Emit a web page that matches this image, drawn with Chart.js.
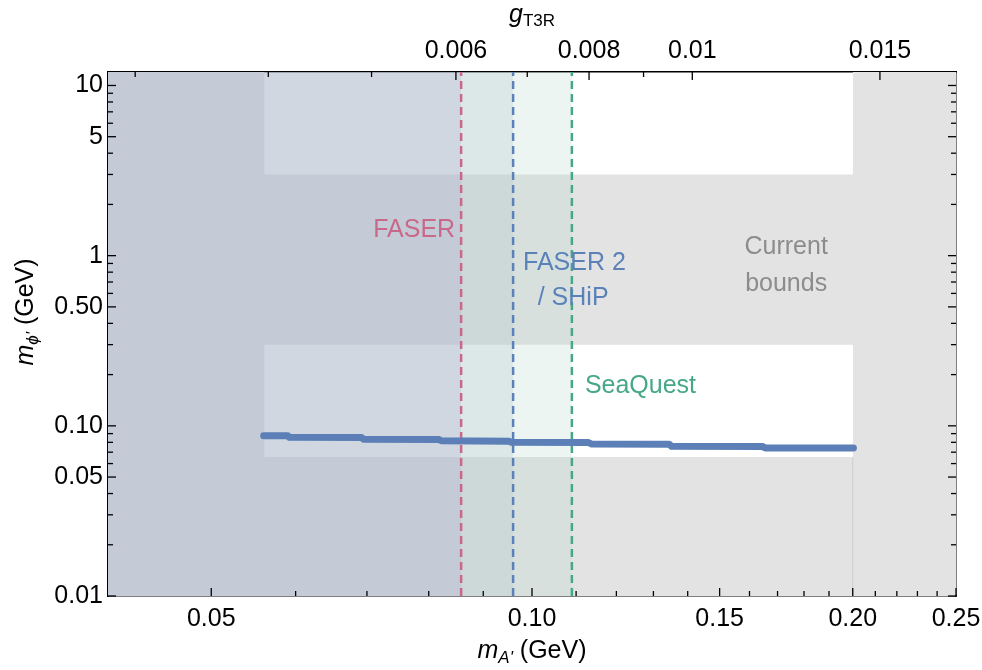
<!DOCTYPE html>
<html>
<head>
<meta charset="utf-8">
<script src="https://cdn.jsdelivr.net/npm/chart.js@4.4.0/dist/chart.umd.min.js"></script>
<style>
  html, body { margin: 0; padding: 0; background: #fff; }
  #wrap { width: 982px; height: 670px; }
</style>
</head>
<body>
<div id="wrap"><canvas id="chart" width="982" height="670"></canvas></div>
<script>
// axis ranges
const massRange = [0.04, 0.25];   // m_A' (GeV), bottom axis
const phiRange = [0.01, 12];      // m_phi' (GeV), left axis
const massPerCoupling = 14.14;    // top axis: m_A' = 14.14 * g_T3R

// ticks
const massMajor = [0.05, 0.10, 0.15, 0.20, 0.25];
const massMajorLabels = ["0.05", "0.10", "0.15", "0.20", "0.25"];
const massMinor = [0.06, 0.07, 0.08, 0.09, 0.11, 0.12, 0.13, 0.14, 0.16, 0.17, 0.18, 0.19, 0.21, 0.22, 0.23, 0.24];
const phiMajor = [0.01, 0.05, 0.1, 0.5, 1, 5, 10];
const phiMajorLabels = ["0.01", "0.05", "0.10", "0.50", "1", "5", "10"];
const phiMinor = [0.02, 0.03, 0.04, 0.06, 0.07, 0.08, 0.09, 0.2, 0.3, 0.4, 0.6, 0.7, 0.8, 0.9, 2, 3, 4, 6, 7, 8, 9];
const couplingMajor = [0.006, 0.008, 0.01, 0.015];
const couplingMajorLabels = ["0.006", "0.008", "0.01", "0.015"];
const couplingMinor = [0.003, 0.004, 0.005, 0.007, 0.009];

// current bounds (grey area)
const boundMassLow = 0.0561;
const boundMassHigh = 0.2;
const boundPhiBand = [0.3, 3];
const boundPhiLow = 0.0655;

// experiment reach in m_A' (sensitive below this)
const experiments = ["FASER", "FASER 2 / SHiP", "SeaQuest"];
const experimentReach = [0.0858, 0.0960, 0.1090];

// thermal target curve
const curveMass = [0.0560, 0.0590, 0.0592, 0.0692, 0.0695, 0.0818, 0.0822, 0.0952, 0.0956, 0.1130, 0.1138, 0.1345, 0.1352, 0.1645, 0.1655, 0.2003];
const curvePhi = [0.0875, 0.0873, 0.0856, 0.0853, 0.0834, 0.0830, 0.0817, 0.0813, 0.0800, 0.0797, 0.0781, 0.0780, 0.0758, 0.0757, 0.0741, 0.0740];

const lineColors = ["#c9698a", "#5a82b8", "#46a887"];
const fillColors = ["rgba(184,158,214,0.32)", "rgba(169,185,199,0.25)", "rgba(183,215,207,0.25)"];
const grey = "#e3e3e3";
const FONT = "'Liberation Sans', Arial, sans-serif";

const phiTop = phiRange[1], phiBottom = phiRange[0];
const pts = (xs, ys) => xs.map((x, i) => ({ x, y: ys[i] }));

function block(data, fill, color, order) {
  return { data, fill, backgroundColor: color, borderColor: "transparent", borderWidth: 0,
           pointRadius: 0, order, xAxisID: "x", yAxisID: "y" };
}

const datasets = [];
// grey current bounds
datasets.push(block(pts([massRange[0], boundMassLow], [phiTop, phiTop]), "start", grey, 100));
datasets.push(block(pts([boundMassHigh, massRange[1]], [phiTop, phiTop]), "start", grey, 100));
datasets.push(block(pts(massRange, [boundPhiBand[1], boundPhiBand[1]]), "+1", grey, 100));
datasets.push(block(pts(massRange, [boundPhiBand[0], boundPhiBand[0]]), false, "transparent", 100));
datasets.push(block(pts(massRange, [boundPhiLow, boundPhiLow]), "start", grey, 100));
// experiment regions (SeaQuest first, FASER on top)
for (let i = experiments.length - 1; i >= 0; i--) {
  datasets.push(block(pts([massRange[0], experimentReach[i]], [phiTop, phiTop]), "start", fillColors[i], 60 - i));
}
// faint edge of current bounds
datasets.push({ data: pts([boundMassHigh, boundMassHigh], [phiBottom, boundPhiLow]), borderColor: "#cfcfcf",
  borderWidth: 1, pointRadius: 0, fill: false, order: 30 });
// dashed reach lines
experiments.forEach((name, i) => {
  datasets.push({ label: name, data: pts([experimentReach[i], experimentReach[i]], [phiBottom, phiTop]),
    borderColor: lineColors[i], borderWidth: 2.5, borderDash: [8, 5], pointRadius: 0, fill: false, order: 10 });
});
// curve
datasets.push({ data: pts(curveMass, curvePhi), borderColor: "#5b7fb6", borderWidth: 7,
  borderCapStyle: "round", borderJoinStyle: "round", pointRadius: 0, fill: false, order: 1 });

const tickMarks = {
  id: "tickMarks",
  afterDatasetsDraw(chart) {
    const { ctx, chartArea: a, scales } = chart;
    ctx.save();
    ctx.strokeStyle = "#000";
    ctx.lineWidth = 1.3;
    const draw = (vals, len, fn) => vals.forEach(v => { ctx.beginPath(); fn(v, len); ctx.stroke(); });
    const bottomFn = (v, len) => { const x = scales.x.getPixelForValue(v); ctx.moveTo(x, a.bottom); ctx.lineTo(x, a.bottom - len); };
    const topFn = (v, len) => { const x = scales.g.getPixelForValue(v); ctx.moveTo(x, a.top); ctx.lineTo(x, a.top + len); };
    const leftFn = (v, len) => { const y = scales.y.getPixelForValue(v); ctx.moveTo(a.left, y); ctx.lineTo(a.left + len, y); };
    const rightFn = (v, len) => { const y = scales.y.getPixelForValue(v); ctx.moveTo(a.right, y); ctx.lineTo(a.right - len, y); };
    draw(massMajor, 8, bottomFn); draw(massMinor, 5, bottomFn);
    draw(couplingMajor, 8, topFn); draw(couplingMinor, 5, topFn);
    draw(phiMajor, 8, leftFn); draw(phiMinor, 5, leftFn);
    draw(phiMajor, 8, rightFn); draw(phiMinor, 5, rightFn);
    ctx.restore();
  }
};

const annotations = {
  id: "annotations",
  afterDatasetsDraw(chart) {
    const { ctx, scales } = chart;
    const X = v => scales.x.getPixelForValue(v), Y = v => scales.y.getPixelForValue(v);
    ctx.save();
    ctx.font = "25px " + FONT;
    ctx.textBaseline = "middle";
    ctx.fillStyle = lineColors[0]; ctx.textAlign = "right";
    ctx.fillText("FASER", X(experimentReach[0]) - 6, Y(1.42));
    ctx.fillStyle = lineColors[1]; ctx.textAlign = "center";
    ctx.fillText("FASER 2", X(0.1096), Y(0.906));
    ctx.fillText("/ SHiP", X(0.1093), Y(0.906) + 35);
    ctx.fillStyle = lineColors[2]; ctx.textAlign = "left";
    ctx.fillText("SeaQuest", X(experimentReach[2]) + 13, Y(0.17));
    ctx.fillStyle = "#8c8c8c"; ctx.textAlign = "center";
    ctx.fillText("Current", X(0.1732), Y(1.125));
    ctx.fillText("bounds", X(0.1732), Y(1.125) + 37);
    ctx.restore();
  }
};

// axis title with italic symbol and subscript
function richTitle(ctx, parts, cx, cy) {
  let w = 0;
  parts.forEach(p => { ctx.font = p.font; p.w = ctx.measureText(p.text).width; w += p.w; });
  let x = cx - w / 2;
  parts.forEach(p => { ctx.font = p.font; ctx.fillText(p.text, x, cy + (p.dy || 0)); x += p.w; });
}

const titles = {
  id: "titles",
  afterDraw(chart) {
    const { ctx, chartArea: a } = chart;
    const cx = (a.left + a.right) / 2;
    ctx.save();
    ctx.fillStyle = "#000";
    ctx.textBaseline = "alphabetic";
    ctx.textAlign = "left";
    richTitle(ctx, [
      { text: "m", font: "italic 25px " + FONT },
      { text: "A'", font: "italic 17px " + FONT, dy: 5 },
      { text: " (GeV)", font: "25px " + FONT }
    ], cx, 658);
    richTitle(ctx, [
      { text: "g", font: "italic 25px " + FONT },
      { text: "T3R", font: "17px " + FONT, dy: 4 }
    ], cx, 22);
    ctx.translate(33, 312);
    ctx.rotate(-Math.PI / 2);
    richTitle(ctx, [
      { text: "m", font: "italic 25px " + FONT },
      { text: "\u03D5'", font: "italic 17px " + FONT, dy: 5 },
      { text: " (GeV)", font: "25px " + FONT }
    ], 0, 0);
    ctx.restore();
  }
};

const tickFont = { family: FONT, size: 25 };
const noGrid = { display: false, drawTicks: false };
const frame = { display: true, color: "#000", width: 1.5 };
const fitX = h => s => { s.height = h; s.paddingLeft = 0; s.paddingRight = 0; };
const fitY = w => s => { s.width = w; s.paddingTop = 0; s.paddingBottom = 0; };

new Chart(document.getElementById("chart"), {
  type: "line",
  data: { datasets },
  options: {
    responsive: false,
    animation: false,
    layout: { padding: 0 },
    plugins: { legend: { display: false }, tooltip: { enabled: false } },
    scales: {
      x: {
        type: "logarithmic", position: "bottom", min: massRange[0], max: massRange[1],
        afterBuildTicks: s => { s.ticks = massMajor.map(v => ({ value: v })); },
        afterFit: fitX(74),
        ticks: { callback: (v, i) => massMajorLabels[i], autoSkip: false, maxRotation: 0, font: tickFont, color: "#000", padding: 8 },
        grid: noGrid, border: frame
      },
      g: {
        type: "logarithmic", position: "top",
        min: massRange[0] / massPerCoupling, max: massRange[1] / massPerCoupling,
        afterBuildTicks: s => { s.ticks = couplingMajor.map(v => ({ value: v })); },
        afterFit: fitX(72),
        ticks: { callback: (v, i) => couplingMajorLabels[i], autoSkip: false, maxRotation: 0, font: tickFont, color: "#000", padding: 6 },
        grid: noGrid, border: frame
      },
      y: {
        type: "logarithmic", position: "left", min: phiRange[0], max: phiRange[1],
        afterBuildTicks: s => { s.ticks = phiMajor.map(v => ({ value: v })); },
        afterFit: fitY(108),
        ticks: { callback: (v, i) => phiMajorLabels[i], autoSkip: false, font: tickFont, color: "#000", padding: 5 },
        grid: noGrid, border: frame
      },
      y2: {
        type: "logarithmic", position: "right", min: phiRange[0], max: phiRange[1],
        afterFit: fitY(26),
        ticks: { display: false },
        grid: noGrid, border: frame
      }
    }
  },
  plugins: [tickMarks, annotations, titles]
});
</script>
</body>
</html>
